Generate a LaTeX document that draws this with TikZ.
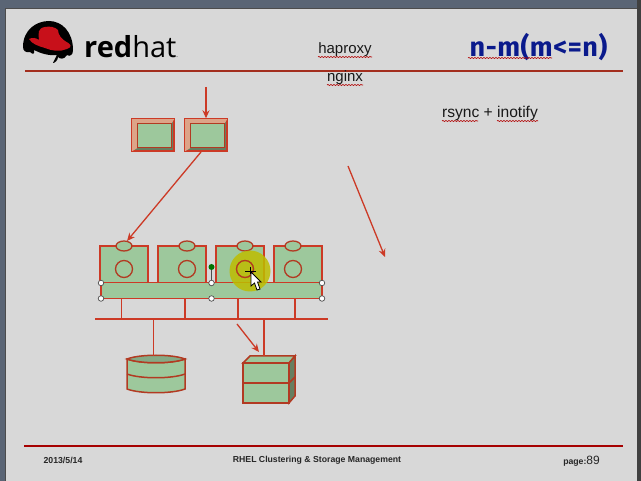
\documentclass[tikz,border=0pt]{standalone}
\usepackage{fontspec}
\setmainfont{Liberation Sans}
\newfontfamily\logofont{Open Sans}
\newfontfamily\titlefont[LetterSpace=2]{Fira Sans}
\usetikzlibrary{arrows.meta,decorations.pathmorphing,calc,shapes.geometric}
\definecolor{slidebg}{HTML}{D8D8D8}
\definecolor{framebg}{HTML}{5A6575}
\definecolor{rl}{HTML}{CC3A26}
\definecolor{gf}{HTML}{9DC89C}
\definecolor{gd}{HTML}{667F60}
\definecolor{ln}{HTML}{B23A22}
\definecolor{hatred}{HTML}{C8101A}
\definecolor{navy}{HTML}{0A1A8C}
\definecolor{salmon}{HTML}{DDA488}
\definecolor{spot}{HTML}{BDBD00}
\tikzset{
 x=1pt,y=-1pt,
 txt/.style={font=\fontsize{15}{15}\selectfont,inner sep=0pt,text=black!90},
 foot/.style={font=\fontsize{8.7}{9}\selectfont\bfseries,inner sep=0pt,text=black!85},
 wavy/.style={draw=red!70!black,line width=0.6pt,decorate,decoration={snake,amplitude=0.6pt,segment length=3pt}},
 wire/.style={draw=rl,line width=1.4pt},
 arr/.style={draw=rl,line width=1.3pt,-{Stealth[length=8pt,width=7pt]}},
 srv/.style={draw=rl,line width=1.5pt,fill=gf,minimum width=48pt,minimum height=38pt,inner sep=0pt},
 lens/.style={draw=ln,line width=1.3pt,fill=gf,minimum width=16pt,minimum height=10pt,shape=ellipse,inner sep=0pt},
 disc/.style={draw=ln,line width=1.3pt,fill=none,shape=circle,minimum size=17pt,inner sep=0pt},
 handle/.style={draw=black!70,fill=white,shape=circle,minimum size=5.5pt,inner sep=0pt,line width=0.7pt},
 hostbox/.style={draw=rl,line width=1.4pt,fill=gd,minimum width=42pt,minimum height=32pt,inner sep=0pt},
 hostin/.style={draw=ln,line width=1pt,fill=gf,minimum width=34pt,minimum height=24pt,inner sep=0pt},
 plate/.style={draw=ln,line width=1.5pt,fill=gf,minimum width=46pt,minimum height=20pt,inner sep=0pt},
}
\begin{document}
\begin{tikzpicture}
\useasboundingbox (0,0) rectangle (641,481);
\fill[framebg] (0,0) rectangle (641,481);
\fill[black!75] (637,0) rectangle (641,481);
\fill[black!70] (5,8) rectangle (637,481);
\fill[slidebg] (6,9) rectangle (637,481);
% logo
\fill[black] (23,47) .. controls (23,30) and (36,21) .. (49,21) .. controls (62,21) and (73,32) .. (73,50) .. controls (73,55) and (70,57) .. (67,55) .. controls (64,60) and (60,59) .. (58,57) .. controls (58,60) and (55,63) .. (53,63) -- (57,55) .. controls (48,56) and (40,53) .. (34,50) .. controls (35,54) and (33,55) .. (30,52) .. controls (26,53) and (23,51) .. (23,47) -- cycle;
\fill[hatred] (29,39) .. controls (33,37) and (36,38) .. (39,40) .. controls (38,33) and (38,28) .. (45,27) .. controls (50,26) and (55,27) .. (58,30) .. controls (58,35) and (62,39) .. (65,41) .. controls (71,44) and (73,47) .. (67,49) .. controls (60,52) and (52,51) .. (45,48) .. controls (38,46) and (32,44) .. (29,39) -- cycle;
\node[inner sep=0pt,anchor=base west,font=\fontsize{29}{29}\selectfont] (logotext) at (84,58) {\logofont\textbf{red}hat\fontsize{6}{6}\selectfont.};
% top rule
\draw[rl!80!black,line width=1.8pt] (25,71) -- (623,71);
% header texts
\node[txt] (hap) at (345,49.5) {haproxy};
\node[txt] (ngx) at (345,78) {nginx};
\node[txt,font=\fontsize{15.6}{16}\selectfont] (rsy) at (490,113.5) {rsync + inotify};
\node[inner sep=0pt,text=navy,font=\fontsize{27}{27}\selectfont\bfseries] (ttl) at (538.5,47) {\titlefont n-m(m<=n)};
\draw[wavy] (318,57) -- (372,57);
\draw[wavy] (327,85) -- (363,85);
\draw[wavy] (442,121) -- (478,121);
\draw[wavy] (497,121) -- (538,121);
\draw[wavy] (468,58) -- (552,58);
% hosts
\foreach \n/\x in {ha/153,hb/206}{
 \node[hostbox] (\n) at (\x,135) {};
 \fill[salmon] (\n.north west) -- (\n.north east) -- ($(\n.north east)+(-3,5)$) -- ($(\n.south west)+(5,-3)$) -- (\n.south west) -- cycle;
 \draw[rl,line width=1.4pt] (\n.north west) rectangle (\n.south east);
 \node[hostin] (\n i) at (\x+1,136) {};
}
\coordinate (top) at (206,87);
\draw[arr] (top) -- (hb.north);
% servers
\node[srv] (s1) at (124,265) {};
\node[srv] (s2) at (182,265) {};
\node[srv] (s3) at (240,265) {};
\node[srv] (s4) at (298,265) {};
\foreach \s/\x in {1/124,2/187,3/245,4/293}{
 \node[lens] (l\s) at (\x,246) {};
 \node[disc] (d\s) at (\x,269) {};
}
% bus
\node[draw=rl,line width=1.5pt,fill=gf,minimum width=221pt,minimum height=16pt,inner sep=0pt] (bus) at (211.5,290.5) {};
% lan
\coordinate (lanL) at (95,319);
\coordinate (lanR) at (328,319);
\draw[wire] (lanL) -- (lanR);
\foreach \x in {121.5,185,238,295}{
 \draw[wire] (\x,298.5) -- (\x,319);
}
% storage
\draw[ln,line width=1.5pt,fill=gf] (127,359) -- (127,389) .. controls (140,394) and (172,394) .. (185,389) -- (185,359) .. controls (172,364) and (140,364) .. (127,359) -- cycle;
\draw[ln,line width=1.5pt,fill=gf!85!black] (127,359) .. controls (140,354) and (172,354) .. (185,359) .. controls (172,364) and (140,364) .. (127,359) -- cycle;
\draw[ln,line width=1.5pt] (127,374) .. controls (140,379) and (172,379) .. (185,374);
\coordinate (cyl) at (153.5,356);
\draw[wire] (153.5,319) -- (cyl);
% cube
\draw[ln,line width=1.5pt,fill=gf] (243,363) -- (250,356) -- (295,356) -- (289,363) -- cycle;
\draw[ln,line width=1.5pt,fill=gd] (289,363) -- (295,356) -- (295,396) -- (289,403) -- cycle;
\node[plate] (c1) at (266,373) {};
\node[plate] (c2) at (266,393) {};
\draw[ln,line width=1.5pt] (289,383) -- (295,377);
\coordinate (cubetop) at (264,356);
\draw[wire] (264,319) -- (cubetop);
% arrows
\coordinate (a1s) at (201,152);
\draw[arr] (a1s) -- (127,241);
\coordinate (a2s) at (348,166);
\coordinate (a2e) at (385,257);
\draw[arr] (a2s) -- (a2e);
\coordinate (a3s) at (237,324);
\coordinate (a3e) at (259,352);
\draw[arr] (a3s) -- (a3e);
% highlight
\fill[spot,opacity=.85] (250,271) circle (20.5);
\node[disc,draw=ln] (d3b) at (245,269) {};
% rotation handle and selection handles
\coordinate (hdl) at (211.5,267);
\draw[black!70,line width=.8pt] (hdl) -- (211.5,283);
\fill[green!45!black] (hdl) circle (3);
\foreach \n/\x/\y in {h1/101/283,h2/211.5/283,h3/322/283,h4/101/298.5,h5/211.5/298.5,h6/322/298.5}{
 \node[handle] (\n) at (\x,\y) {};
}
% cursor
\draw[black,line width=.8pt,fill=white] (251,272) -- (251,286) -- (254.5,283) -- (257,290) -- (260,289) -- (257.5,282) -- (261,282) -- cycle;
\draw[black,line width=1pt] (245,272) -- (256,272) (250,267) -- (250,274);
% footer
\draw[red!65!black,line width=1.4pt] (24,446) -- (623,446);
\node[foot] (fd) at (63,460) {2013/5/14};
\node[foot] (ft) at (317,460) {RHEL Clustering \& Storage Management};
\node[inner sep=0pt,anchor=base east,text=black!85] (fp) at (600,465) {\fontsize{8.7}{9}\selectfont\bfseries page:\fontsize{12}{12}\selectfont\mdseries 89};
\end{tikzpicture}
\end{document}
